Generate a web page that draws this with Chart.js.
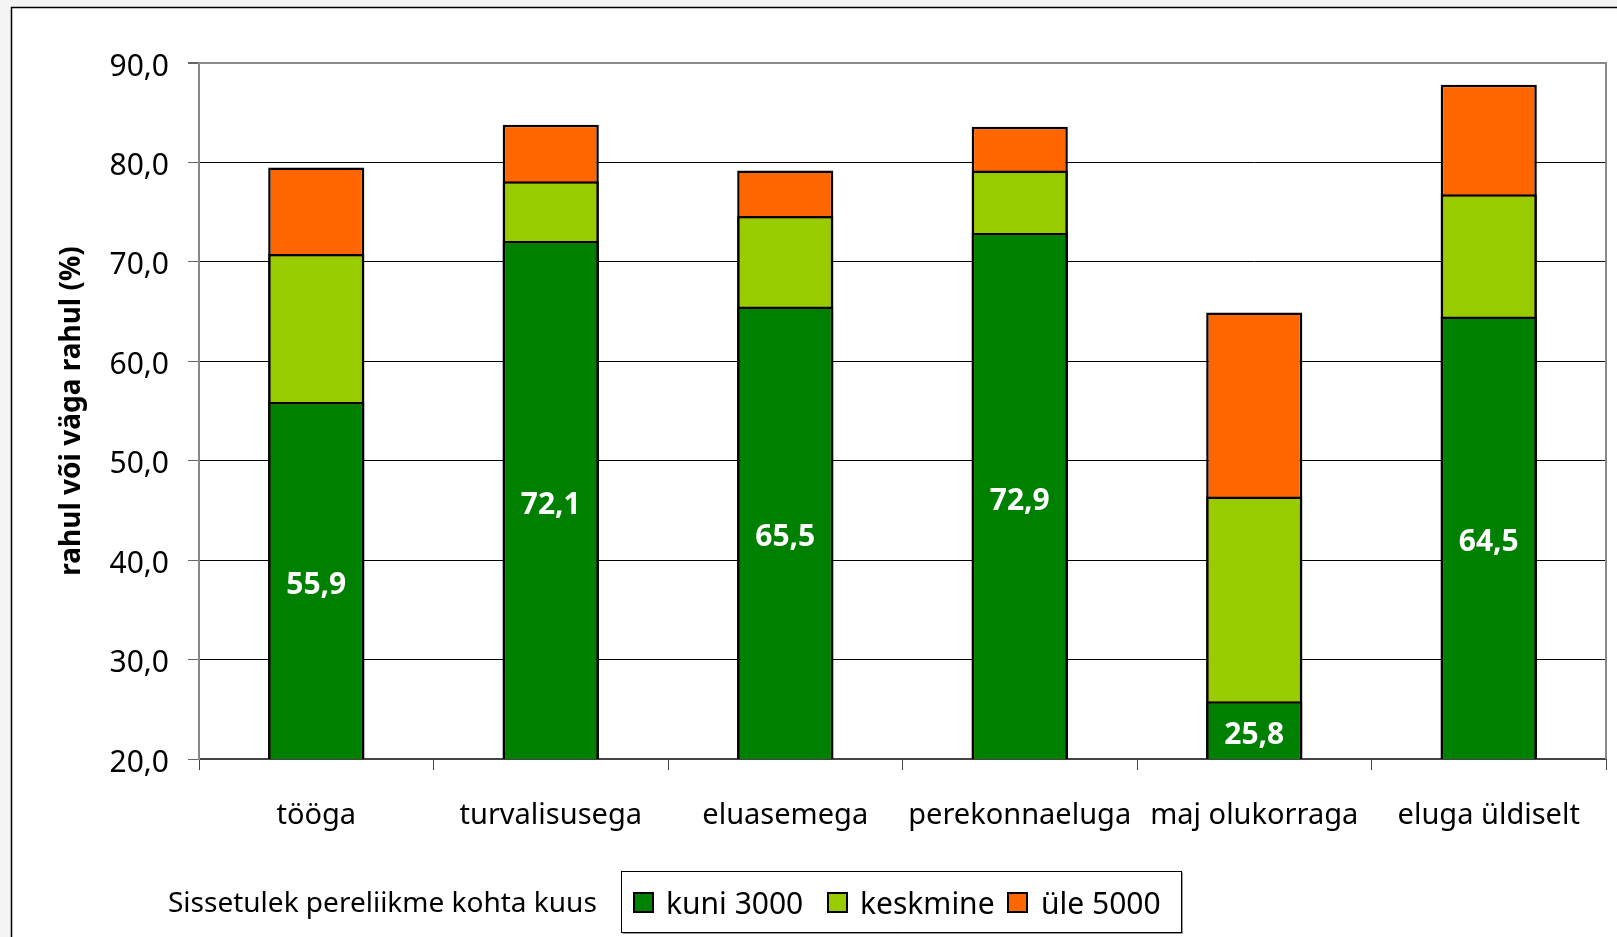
<!DOCTYPE html>
<html>
<head>
<meta charset="utf-8">
<script src="https://cdn.jsdelivr.net/npm/chart.js@4"></script>
<style>
  html, body { margin: 0; padding: 0; background: #f4f4f4; overflow: hidden; }
  canvas { display: block; }
</style>
</head>
<body>
<canvas id="satisfactionChart" width="1617" height="937"></canvas>
<script>
// ── Data ──
const categories = ["tööga", "turvalisusega", "eluasemega", "perekonnaeluga", "maj olukorraga", "eluga üldiselt"];
const kuni3000  = [55.9, 72.1, 65.5, 72.9, 25.8, 64.5];
const keskmine  = [70.8, 78.1, 74.6, 79.2, 46.4, 76.8];
const yle5000   = [79.5, 83.8, 79.2, 83.6, 64.9, 87.8];
const seriesNames = ["kuni 3000", "keskmine", "üle 5000"];
const legendTitle = "Sissetulek pereliikme kohta kuus";
const axisTitle = "rahul või väga rahul (%)";

const COLORS = { dark: "#008000", light: "#99cc00", orange: "#ff6600" };
const FONT = "'Noto Sans', 'DejaVu Sans', sans-serif";
const fmt = v => v.toFixed(1).replace(".", ",");

// ── Frame + plot border ──
const framePlugin = {
  id: "frame",
  beforeDraw(chart) {
    const c = chart.ctx;
    c.save();
    c.fillStyle = "#f4f4f4";
    c.fillRect(0, 0, chart.width, chart.height);
    c.fillStyle = "#ffffff";
    c.fillRect(11, 7, chart.width, chart.height);
    c.strokeStyle = "#000";
    c.lineWidth = 1.5;
    c.beginPath();
    c.moveTo(11.5, chart.height + 5);
    c.lineTo(11.5, 7.5);
    c.lineTo(chart.width + 5, 7.5);
    c.stroke();
    c.restore();
  },
  beforeDatasetsDraw(chart) {
    const { ctx: c, chartArea: a } = chart;
    c.save();
    c.strokeStyle = "#888";
    c.lineWidth = 2;
    c.beginPath();
    c.moveTo(a.left, a.top);
    c.lineTo(a.right, a.top);
    c.lineTo(a.right, a.bottom);
    c.stroke();
    c.restore();
  }
};

// ── Value labels inside the dark green bars ──
const valueLabels = {
  id: "valueLabels",
  afterDatasetsDraw(chart) {
    const c = chart.ctx;
    const meta = chart.getDatasetMeta(0);
    const bottom = chart.chartArea.bottom;
    c.save();
    c.fillStyle = "#fff";
    c.font = `bold 30px ${FONT}`;
    c.textAlign = "center";
    c.textBaseline = "middle";
    meta.data.forEach((bar, i) => {
      const base = Math.min(bar.base, bottom);
      c.fillText(fmt(chart.data.datasets[0].data[i]), bar.x, (bar.y + base) / 2 + 5);
    });
    c.restore();
  }
};

// ── Custom legend ──
const boxLegend = {
  id: "boxLegend",
  afterDraw(chart) {
    const c = chart.ctx;
    c.save();
    c.fillStyle = "#000";
    c.textBaseline = "alphabetic";
    c.font = `28px ${FONT}`;
    c.fillText(legendTitle, 168, 912);

    // box
    c.strokeStyle = "#999";
    c.lineWidth = 1;
    c.beginPath();
    c.moveTo(622.5, 933.5); c.lineTo(1182.5, 933.5); c.lineTo(1182.5, 872.5);
    c.stroke();
    c.strokeStyle = "#000";
    c.strokeRect(621.5, 871.5, 560, 61);

    const swX = [633, 827, 1007];
    const txX = [666, 860, 1041];
    c.font = `30px ${FONT}`;
    chart.data.datasets.forEach((ds, i) => {
      c.fillStyle = ds.backgroundColor;
      c.fillRect(swX[i], 892, 21, 21);
      c.strokeStyle = "#000";
      c.lineWidth = 2;
      c.strokeRect(swX[i] + 1, 893, 19, 19);
      c.fillStyle = "#000";
      c.fillText(ds.label, txX[i], 914);
    });
    c.restore();
  }
};

const barStyle = {
  borderColor: "#000",
  borderWidth: 2.5,
  borderSkipped: false,
  barPercentage: 0.41,
  categoryPercentage: 1,
  grouped: false,
};

new Chart(document.getElementById("satisfactionChart"), {
  type: "bar",
  data: {
    labels: categories,
    datasets: [
      { label: seriesNames[0], data: kuni3000, backgroundColor: COLORS.dark, ...barStyle },
      { label: seriesNames[1], data: keskmine, backgroundColor: COLORS.light, ...barStyle },
      { label: seriesNames[2], data: yle5000, backgroundColor: COLORS.orange, ...barStyle },
    ]
  },
  options: {
    responsive: false,
    animation: false,
    devicePixelRatio: 1,
    layout: { padding: { left: 0, top: 63, right: 11, bottom: 78 } },
    plugins: {
      legend: { display: false },
      tooltip: { enabled: false },
    },
    scales: {
      x: {
        afterFit: s => { s.height = 100; },
        grid: { display: true, drawOnChartArea: false, drawTicks: true, tickLength: 11, color: "#444", offset: true },
        border: { display: true, color: "#444", width: 2 },
        ticks: { color: "#000", font: { family: FONT, size: 29 }, padding: 28, maxRotation: 0, autoSkip: false },
      },
      y: {
        min: 20,
        max: 90,
        afterFit: s => { s.width = 199; },
        grid: {
          color: ctx => (ctx.tick && ctx.tick.value === 90 ? "#888" : "#000"),
          lineWidth: ctx => (ctx.tick && ctx.tick.value === 90 ? 2 : 1),
          tickColor: "#666",
          tickLength: 11,
        },
        border: { display: true, color: "#888", width: 2 },
        ticks: {
          stepSize: 10,
          color: "#000",
          font: { family: FONT, size: 30 },
          padding: 19,
          labelOffset: 4,
          callback: v => fmt(v),
        },
        title: {
          display: true,
          text: axisTitle,
          color: "#000",
          font: { family: FONT, size: 28, weight: "bold" },
          padding: { top: 55, bottom: 0 },
        }
      }
    }
  },
  plugins: [framePlugin, valueLabels, boxLegend]
});
</script>
</body>
</html>
